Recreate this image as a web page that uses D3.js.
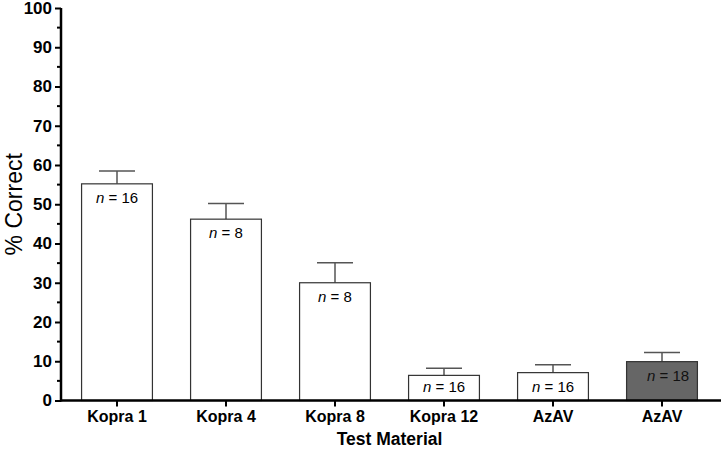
<!DOCTYPE html>
<html><head><meta charset="utf-8">
<script src="https://cdn.jsdelivr.net/npm/d3@7"></script>
<style>body{margin:0;background:#fff}svg{display:block}</style>
</head><body>
<svg id="c" width="721" height="450"></svg>
<script>
const categories = ["Kopra 1","Kopra 4","Kopra 8","Kopra 12","AzAV","AzAV"];
const values = [55.2, 46.2, 30.0, 6.4, 7.1, 9.9];
const errors = [3.3, 4.0, 5.1, 1.8, 2.0, 2.3];
const nLabels = ["16","8","8","16","16","18"];
const fills = ["#ffffff","#ffffff","#ffffff","#ffffff","#ffffff","#666666"];
const yTicks = [0,10,20,30,40,50,60,70,80,90,100];

const svg = d3.select("#c");
const W = 721, H = 450;
const m = {left: 61, top: 8, bottom: 49.5, right: 4.5};
const x = d3.scaleBand().domain(d3.range(categories.length)).range([m.left+1.5, W - m.right]).paddingInner(0.35).paddingOuter(0.175);
const y = d3.scaleLinear().domain([0,100]).range([H - m.bottom, m.top]);
const font = "'Liberation Sans', Arial, sans-serif";

const g = svg.append("g");
categories.forEach((c,i)=>{
  const cx = x(i) + x.bandwidth()/2;
  g.append("line").attr("x1",cx).attr("x2",cx).attr("y1",y(values[i])).attr("y2",y(values[i]+errors[i])).attr("stroke","#555").attr("stroke-width",1.5);
  g.append("line").attr("x1",cx-18).attr("x2",cx+18).attr("y1",y(values[i]+errors[i])).attr("y2",y(values[i]+errors[i])).attr("stroke","#555").attr("stroke-width",1.5);
  g.append("rect").attr("x",x(i)).attr("width",x.bandwidth()).attr("y",y(values[i])).attr("height",y(0)-y(values[i]))
    .attr("fill",fills[i]).attr("stroke","#333").attr("stroke-width",1.2);
  const ly = Math.min(y(values[i]) + 19, y(0) - 9);
  const t = g.append("text").attr("x",cx + (i===5?6:0)).attr("y",ly).attr("text-anchor","middle")
    .attr("font-family",font).attr("font-size",15).attr("fill",i===5?"#111":"#000");
  t.append("tspan").attr("font-style","italic").text("n");
  t.append("tspan").text(" = " + nLabels[i]);
});

const ya = svg.append("g").attr("transform",`translate(${m.left},0)`)
  .call(d3.axisLeft(y).tickValues(yTicks).tickSize(6).tickPadding(3).tickFormat(d3.format("d")));
ya.select(".domain").attr("stroke","#000").attr("stroke-width",2.5).attr("d",`M0,${y(0)+1}V${y(100)}`);
ya.selectAll(".tick line").attr("stroke-width",2);
ya.selectAll("text").attr("font-family",font).attr("font-size",17).attr("font-weight","bold").attr("fill","#000");
const minor = d3.range(5,100,10);
svg.append("g").selectAll("line").data(minor).join("line")
  .attr("x1",m.left-4).attr("x2",m.left).attr("y1",d=>y(d)).attr("y2",d=>y(d)).attr("stroke","#000").attr("stroke-width",2);

const xa = svg.append("g").attr("transform",`translate(0,${y(0)})`)
  .call(d3.axisBottom(x).tickSize(6).tickPadding(4).tickFormat(i=>categories[i]));
xa.select(".domain").attr("stroke","#000").attr("stroke-width",2.5).attr("d",`M${m.left-1},0H${W}`);
xa.selectAll(".tick line").attr("stroke-width",2);
xa.selectAll("text").attr("font-family",font).attr("font-size",16).attr("font-weight","bold").attr("fill","#000");

svg.append("text").attr("x",(x(0)+x(5)+x.bandwidth())/2).attr("y",445).attr("text-anchor","middle")
  .attr("font-family",font).attr("font-size",17.5).attr("font-weight","bold").text("Test Material");
svg.append("text").attr("transform",`translate(22,${y(50)}) rotate(-90)`).attr("text-anchor","middle")
  .attr("font-family",font).attr("font-size",23).text("% Correct");
</script>
</body></html>
